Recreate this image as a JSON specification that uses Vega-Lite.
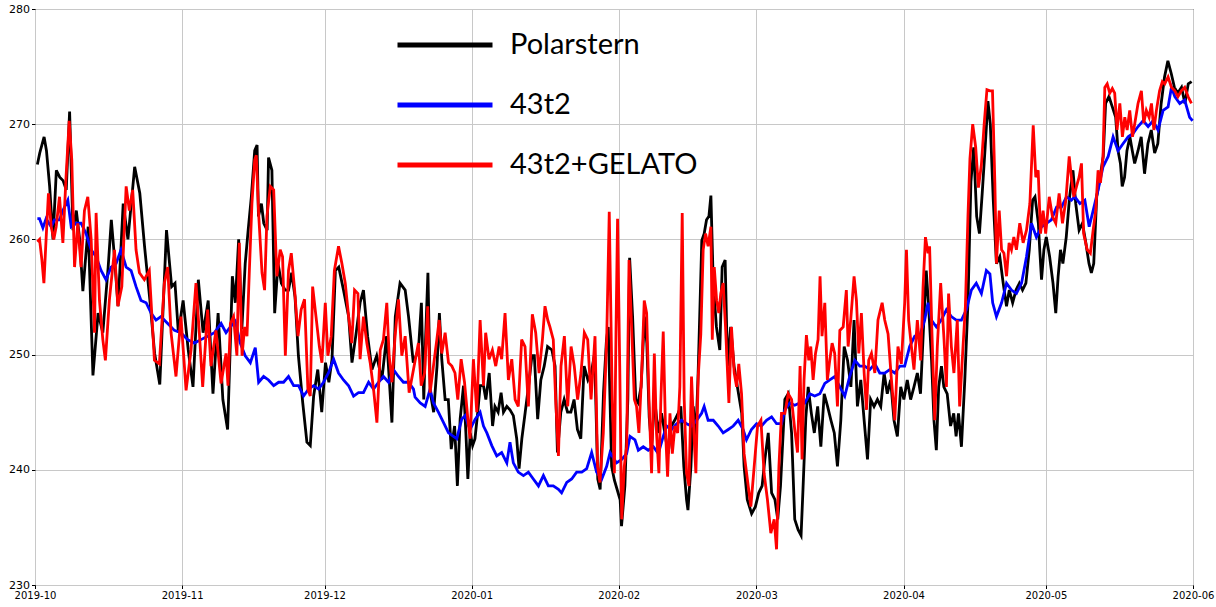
{
  "$schema": "https://vega.github.io/schema/vega-lite/v6.json",
  "width": 1158,
  "height": 576,
  "autosize": {"type": "none"},
  "padding": {"left": 35, "top": 9, "right": 23, "bottom": 22},
  "background": "white",
  "config": {
    "view": {"stroke": "#000000", "strokeWidth": 1},
    "axis": {
      "grid": true,
      "gridColor": "#c8c8c8",
      "gridWidth": 1,
      "domain": false,
      "tickColor": "#000000",
      "tickSize": 3.5,
      "labelFont": "DejaVu Sans",
      "labelColor": "#000000",
      "labelPadding": 2,
      "title": null
    }
  },
  "datasets": {
    "polarstern": [
      {"t":"2019-10-01T12:00","v":266.5},{"t":"2019-10-02T00:00","v":267.5},{"t":"2019-10-02T22:00","v":268.9},{"t":"2019-10-03T10:00","v":267.7},{"t":"2019-10-04T02:00","v":264.6},{"t":"2019-10-04T19:00","v":260.0},{"t":"2019-10-05T12:00","v":266.0},{"t":"2019-10-06T05:00","v":265.4},{"t":"2019-10-06T22:00","v":265.1},{"t":"2019-10-07T14:00","v":264.3},{"t":"2019-10-08T07:00","v":271.1},{"t":"2019-10-09T00:00","v":260.8},{"t":"2019-10-09T17:00","v":262.5},{"t":"2019-10-10T10:00","v":260.0},{"t":"2019-10-11T02:00","v":255.5},{"t":"2019-10-12T05:00","v":261.1},{"t":"2019-10-13T05:00","v":248.2},{"t":"2019-10-14T07:00","v":253.6},{"t":"2019-10-15T07:00","v":251.9},{"t":"2019-10-16T10:00","v":257.6},{"t":"2019-10-17T02:00","v":261.7},{"t":"2019-10-17T19:00","v":258.2},{"t":"2019-10-18T12:00","v":254.2},{"t":"2019-10-19T14:00","v":263.1},{"t":"2019-10-20T14:00","v":260.0},{"t":"2019-10-22T00:00","v":266.3},{"t":"2019-10-23T02:00","v":264.0},{"t":"2019-10-24T02:00","v":259.4},{"t":"2019-10-25T05:00","v":254.7},{"t":"2019-10-26T05:00","v":250.1},{"t":"2019-10-27T07:00","v":247.4},{"t":"2019-10-28T17:00","v":260.8},{"t":"2019-10-29T19:00","v":255.9},{"t":"2019-10-30T12:00","v":256.2},{"t":"2019-10-31T05:00","v":251.9},
      {"t":"2019-11-01T05:00","v":254.7},{"t":"2019-11-02T07:00","v":250.4},{"t":"2019-11-03T07:00","v":247.2},{"t":"2019-11-04T10:00","v":256.5},{"t":"2019-11-05T10:00","v":251.9},{"t":"2019-11-06T12:00","v":254.7},{"t":"2019-11-07T12:00","v":246.6},{"t":"2019-11-08T14:00","v":253.6},{"t":"2019-11-09T14:00","v":246.1},{"t":"2019-11-10T14:00","v":243.5},{"t":"2019-11-11T05:00","v":251.6},{"t":"2019-11-11T14:00","v":256.8},{"t":"2019-11-12T05:00","v":254.5},{"t":"2019-11-12T22:00","v":260.0},{"t":"2019-11-13T14:00","v":252.2},{"t":"2019-11-14T07:00","v":257.9},{"t":"2019-11-14T22:00","v":260.8},{"t":"2019-11-15T14:00","v":263.7},{"t":"2019-11-16T07:00","v":267.7},{"t":"2019-11-16T19:00","v":268.2},{"t":"2019-11-17T02:00","v":262.0},{"t":"2019-11-17T17:00","v":263.1},{"t":"2019-11-18T05:00","v":261.4},{"t":"2019-11-18T22:00","v":260.8},{"t":"2019-11-19T05:00","v":267.1},{"t":"2019-11-19T22:00","v":266.0},{"t":"2019-11-20T12:00","v":253.6},{"t":"2019-11-21T05:00","v":257.9},{"t":"2019-11-21T22:00","v":256.2},{"t":"2019-11-22T17:00","v":255.6},{"t":"2019-11-23T10:00","v":255.6},{"t":"2019-11-24T02:00","v":257.1},{"t":"2019-11-24T19:00","v":255.0},{"t":"2019-11-25T12:00","v":249.9},{"t":"2019-11-26T10:00","v":245.8},{"t":"2019-11-27T07:00","v":242.4},{"t":"2019-11-28T00:00","v":242.1},{"t":"2019-11-28T17:00","v":246.4},{"t":"2019-11-29T14:00","v":248.7},{"t":"2019-11-30T10:00","v":245.0},
      {"t":"2019-12-01T05:00","v":249.3},{"t":"2019-12-01T22:00","v":247.6},{"t":"2019-12-02T14:00","v":249.6},{"t":"2019-12-03T07:00","v":257.3},{"t":"2019-12-04T00:00","v":257.6},{"t":"2019-12-05T00:00","v":255.6},{"t":"2019-12-06T02:00","v":253.3},{"t":"2019-12-06T19:00","v":249.3},{"t":"2019-12-07T14:00","v":251.6},{"t":"2019-12-08T12:00","v":254.5},{"t":"2019-12-09T05:00","v":255.6},{"t":"2019-12-10T02:00","v":251.6},{"t":"2019-12-11T00:00","v":248.7},{"t":"2019-12-12T00:00","v":249.9},{"t":"2019-12-13T02:00","v":247.8},{"t":"2019-12-14T02:00","v":251.6},{"t":"2019-12-15T05:00","v":244.1},{"t":"2019-12-15T22:00","v":253.3},{"t":"2019-12-16T22:00","v":256.2},{"t":"2019-12-18T00:00","v":255.6},{"t":"2019-12-18T17:00","v":253.3},{"t":"2019-12-19T17:00","v":249.3},{"t":"2019-12-20T19:00","v":250.4},{"t":"2019-12-21T10:00","v":254.5},{"t":"2019-12-21T22:00","v":246.1},{"t":"2019-12-22T07:00","v":251.3},{"t":"2019-12-22T19:00","v":257.1},{"t":"2019-12-23T07:00","v":246.7},{"t":"2019-12-24T00:00","v":245.0},{"t":"2019-12-24T17:00","v":249.0},{"t":"2019-12-25T05:00","v":253.6},{"t":"2019-12-25T17:00","v":249.6},{"t":"2019-12-26T10:00","v":246.1},{"t":"2019-12-27T02:00","v":246.1},{"t":"2019-12-27T17:00","v":241.8},{"t":"2019-12-28T10:00","v":243.8},{"t":"2019-12-29T00:00","v":238.6},{"t":"2019-12-29T14:00","v":244.4},{"t":"2019-12-30T07:00","v":247.3},{"t":"2019-12-30T19:00","v":243.2},{"t":"2019-12-31T05:00","v":239.2},{"t":"2019-12-31T17:00","v":243.2},
      {"t":"2020-01-01T05:00","v":242.1},{"t":"2020-01-01T17:00","v":242.7},{"t":"2020-01-02T07:00","v":245.0},{"t":"2020-01-02T19:00","v":247.3},{"t":"2020-01-03T12:00","v":247.3},{"t":"2020-01-04T00:00","v":246.1},{"t":"2020-01-04T17:00","v":248.4},{"t":"2020-01-05T10:00","v":243.8},{"t":"2020-01-05T22:00","v":245.5},{"t":"2020-01-06T14:00","v":245.0},{"t":"2020-01-07T05:00","v":246.7},{"t":"2020-01-07T17:00","v":245.0},{"t":"2020-01-08T10:00","v":245.5},{"t":"2020-01-09T02:00","v":245.2},{"t":"2020-01-09T19:00","v":244.7},{"t":"2020-01-10T12:00","v":242.7},{"t":"2020-01-11T00:00","v":240.1},{"t":"2020-01-11T14:00","v":242.7},{"t":"2020-01-12T07:00","v":245.0},{"t":"2020-01-13T00:00","v":247.3},{"t":"2020-01-13T17:00","v":249.9},{"t":"2020-01-14T05:00","v":249.9},{"t":"2020-01-14T22:00","v":244.4},{"t":"2020-01-15T14:00","v":247.8},{"t":"2020-01-16T07:00","v":249.0},{"t":"2020-01-17T00:00","v":250.7},{"t":"2020-01-17T22:00","v":250.4},{"t":"2020-01-18T14:00","v":249.0},{"t":"2020-01-19T02:00","v":241.5},{"t":"2020-01-19T19:00","v":245.0},{"t":"2020-01-20T12:00","v":246.1},{"t":"2020-01-21T05:00","v":245.0},{"t":"2020-01-21T22:00","v":245.0},{"t":"2020-01-22T14:00","v":246.1},{"t":"2020-01-23T07:00","v":243.5},{"t":"2020-01-24T00:00","v":242.7},{"t":"2020-01-24T17:00","v":249.0},{"t":"2020-01-25T12:00","v":247.8},{"t":"2020-01-26T05:00","v":248.4},{"t":"2020-01-26T22:00","v":250.1},{"t":"2020-01-27T14:00","v":239.2},{"t":"2020-01-28T02:00","v":238.3},{"t":"2020-01-28T19:00","v":246.7},{"t":"2020-01-29T10:00","v":251.3},{"t":"2020-01-29T19:00","v":252.4},{"t":"2020-01-30T12:00","v":240.3},{"t":"2020-01-31T02:00","v":239.1},
      {"t":"2020-02-01T07:00","v":237.4},{"t":"2020-02-01T14:00","v":235.1},{"t":"2020-02-02T07:00","v":238.6},{"t":"2020-02-02T22:00","v":246.1},{"t":"2020-02-03T07:00","v":258.4},{"t":"2020-02-03T22:00","v":253.3},{"t":"2020-02-04T14:00","v":246.1},{"t":"2020-02-05T02:00","v":245.8},{"t":"2020-02-05T17:00","v":247.2},{"t":"2020-02-06T10:00","v":253.3},{"t":"2020-02-06T22:00","v":251.0},{"t":"2020-02-07T10:00","v":244.6},{"t":"2020-02-07T22:00","v":242.0},{"t":"2020-02-08T14:00","v":246.1},{"t":"2020-02-09T07:00","v":243.2},{"t":"2020-02-10T00:00","v":244.9},{"t":"2020-02-10T17:00","v":243.2},{"t":"2020-02-11T10:00","v":241.4},{"t":"2020-02-12T02:00","v":243.8},{"t":"2020-02-12T19:00","v":244.3},{"t":"2020-02-13T12:00","v":244.9},{"t":"2020-02-14T02:00","v":245.5},{"t":"2020-02-14T17:00","v":240.3},{"t":"2020-02-15T07:00","v":237.4},{"t":"2020-02-15T14:00","v":236.5},{"t":"2020-02-16T05:00","v":240.3},{"t":"2020-02-16T17:00","v":245.5},{"t":"2020-02-17T05:00","v":242.6},{"t":"2020-02-17T17:00","v":248.1},{"t":"2020-02-18T12:00","v":259.9},{"t":"2020-02-19T00:00","v":260.5},{"t":"2020-02-19T12:00","v":261.7},{"t":"2020-02-20T00:00","v":262.0},{"t":"2020-02-20T10:00","v":263.8},{"t":"2020-02-20T22:00","v":256.2},{"t":"2020-02-21T14:00","v":252.4},{"t":"2020-02-22T07:00","v":250.4},{"t":"2020-02-22T19:00","v":257.6},{"t":"2020-02-23T10:00","v":258.2},{"t":"2020-02-23T22:00","v":249.0},{"t":"2020-02-24T14:00","v":252.4},{"t":"2020-02-25T07:00","v":249.0},{"t":"2020-02-26T00:00","v":247.2},{"t":"2020-02-26T22:00","v":244.9},{"t":"2020-02-27T10:00","v":240.3},{"t":"2020-02-28T02:00","v":237.4},{"t":"2020-02-29T00:00","v":236.2},{"t":"2020-02-29T19:00","v":236.8},
      {"t":"2020-03-01T12:00","v":238.0},{"t":"2020-03-02T05:00","v":238.6},{"t":"2020-03-02T19:00","v":240.9},{"t":"2020-03-03T12:00","v":243.2},{"t":"2020-03-04T05:00","v":238.0},{"t":"2020-03-04T22:00","v":237.4},{"t":"2020-03-05T12:00","v":235.7},{"t":"2020-03-06T02:00","v":238.6},{"t":"2020-03-07T00:00","v":246.1},{"t":"2020-03-07T17:00","v":246.6},{"t":"2020-03-08T10:00","v":243.2},{"t":"2020-03-09T02:00","v":235.7},{"t":"2020-03-09T19:00","v":234.8},{"t":"2020-03-10T10:00","v":234.3},{"t":"2020-03-10T19:00","v":238.0},{"t":"2020-03-11T10:00","v":244.5},{"t":"2020-03-11T22:00","v":247.2},{"t":"2020-03-12T14:00","v":244.9},{"t":"2020-03-13T05:00","v":243.2},{"t":"2020-03-13T22:00","v":245.5},{"t":"2020-03-14T14:00","v":242.0},{"t":"2020-03-15T07:00","v":246.6},{"t":"2020-03-16T00:00","v":245.5},{"t":"2020-03-16T17:00","v":244.3},{"t":"2020-03-17T10:00","v":243.2},{"t":"2020-03-18T02:00","v":240.3},{"t":"2020-03-18T19:00","v":244.3},{"t":"2020-03-19T12:00","v":250.7},{"t":"2020-03-20T05:00","v":249.5},{"t":"2020-03-20T22:00","v":247.2},{"t":"2020-03-21T14:00","v":253.0},{"t":"2020-03-22T07:00","v":245.5},{"t":"2020-03-23T00:00","v":247.8},{"t":"2020-03-23T17:00","v":244.3},{"t":"2020-03-24T10:00","v":240.9},{"t":"2020-03-25T02:00","v":246.1},{"t":"2020-03-25T19:00","v":245.5},{"t":"2020-03-26T12:00","v":246.1},{"t":"2020-03-27T05:00","v":245.5},{"t":"2020-03-27T22:00","v":248.4},{"t":"2020-03-28T14:00","v":246.6},{"t":"2020-03-29T07:00","v":247.8},{"t":"2020-03-30T00:00","v":244.3},{"t":"2020-03-30T17:00","v":242.9},{"t":"2020-03-31T10:00","v":247.2},
      {"t":"2020-04-01T02:00","v":246.1},{"t":"2020-04-01T19:00","v":247.8},{"t":"2020-04-02T12:00","v":246.1},{"t":"2020-04-03T05:00","v":247.2},{"t":"2020-04-03T22:00","v":248.4},{"t":"2020-04-04T14:00","v":246.6},{"t":"2020-04-05T07:00","v":253.0},{"t":"2020-04-05T19:00","v":257.3},{"t":"2020-04-06T07:00","v":254.2},{"t":"2020-04-06T22:00","v":249.5},{"t":"2020-04-07T10:00","v":244.3},{"t":"2020-04-07T22:00","v":241.7},{"t":"2020-04-08T10:00","v":247.2},{"t":"2020-04-09T00:00","v":249.0},{"t":"2020-04-09T12:00","v":247.2},{"t":"2020-04-10T05:00","v":246.6},{"t":"2020-04-10T22:00","v":243.8},{"t":"2020-04-11T14:00","v":244.9},{"t":"2020-04-12T02:00","v":242.9},{"t":"2020-04-12T14:00","v":244.9},{"t":"2020-04-13T05:00","v":242.0},{"t":"2020-04-13T22:00","v":247.8},{"t":"2020-04-14T14:00","v":254.5},{"t":"2020-04-15T05:00","v":265.0},{"t":"2020-04-15T19:00","v":268.0},{"t":"2020-04-16T10:00","v":262.0},{"t":"2020-04-17T00:00","v":260.5},{"t":"2020-04-17T14:00","v":264.0},{"t":"2020-04-18T05:00","v":268.0},{"t":"2020-04-18T19:00","v":272.0},{"t":"2020-04-19T07:00","v":270.0},{"t":"2020-04-19T22:00","v":263.4},{"t":"2020-04-20T14:00","v":257.9},{"t":"2020-04-21T07:00","v":258.5},{"t":"2020-04-22T00:00","v":256.2},{"t":"2020-04-22T17:00","v":254.2},{"t":"2020-04-23T07:00","v":255.6},{"t":"2020-04-24T00:00","v":254.5},{"t":"2020-04-24T17:00","v":255.6},{"t":"2020-04-25T10:00","v":256.2},{"t":"2020-04-26T02:00","v":255.6},{"t":"2020-04-26T19:00","v":256.2},{"t":"2020-04-27T12:00","v":259.1},{"t":"2020-04-28T05:00","v":263.4},{"t":"2020-04-28T17:00","v":263.7},{"t":"2020-04-29T10:00","v":261.4},{"t":"2020-04-29T17:00","v":259.1},{"t":"2020-04-30T02:00","v":256.5},{"t":"2020-04-30T14:00","v":259.1},
      {"t":"2020-05-01T02:00","v":260.2},{"t":"2020-05-01T19:00","v":258.5},{"t":"2020-05-02T12:00","v":256.2},{"t":"2020-05-03T02:00","v":253.6},{"t":"2020-05-03T14:00","v":256.8},{"t":"2020-05-04T02:00","v":259.1},{"t":"2020-05-04T14:00","v":257.9},{"t":"2020-05-05T07:00","v":260.2},{"t":"2020-05-06T00:00","v":263.7},{"t":"2020-05-06T17:00","v":266.0},{"t":"2020-05-07T07:00","v":263.1},{"t":"2020-05-08T00:00","v":260.8},{"t":"2020-05-08T17:00","v":261.4},{"t":"2020-05-09T10:00","v":259.7},{"t":"2020-05-10T02:00","v":257.9},{"t":"2020-05-10T14:00","v":257.1},{"t":"2020-05-11T02:00","v":257.9},{"t":"2020-05-11T17:00","v":263.7},{"t":"2020-05-12T10:00","v":265.4},{"t":"2020-05-13T02:00","v":267.2},{"t":"2020-05-13T14:00","v":271.8},{"t":"2020-05-14T07:00","v":272.4},{"t":"2020-05-15T00:00","v":271.5},{"t":"2020-05-15T17:00","v":270.6},{"t":"2020-05-16T05:00","v":267.7},{"t":"2020-05-16T17:00","v":266.6},{"t":"2020-05-17T02:00","v":264.6},{"t":"2020-05-17T14:00","v":265.4},{"t":"2020-05-18T02:00","v":267.7},{"t":"2020-05-18T17:00","v":268.9},{"t":"2020-05-19T05:00","v":267.7},{"t":"2020-05-19T17:00","v":266.6},{"t":"2020-05-20T10:00","v":267.7},{"t":"2020-05-21T02:00","v":268.9},{"t":"2020-05-21T19:00","v":265.7},{"t":"2020-05-22T12:00","v":268.3},{"t":"2020-05-23T05:00","v":269.5},{"t":"2020-05-23T22:00","v":267.5},{"t":"2020-05-24T14:00","v":268.3},{"t":"2020-05-25T07:00","v":271.8},{"t":"2020-05-26T00:00","v":274.1},{"t":"2020-05-26T17:00","v":275.5},{"t":"2020-05-27T10:00","v":274.4},{"t":"2020-05-28T02:00","v":273.2},{"t":"2020-05-28T19:00","v":272.7},{"t":"2020-05-29T14:00","v":273.2},{"t":"2020-05-30T07:00","v":271.8},{"t":"2020-05-31T00:00","v":273.5},{"t":"2020-05-31T17:00","v":273.7}
    ],
    "run43t2": [
      {"t":"2019-10-01T12:00","v":261.8},{"t":"2019-10-01T23:00","v":261.8},{"t":"2019-10-02T16:00","v":261.0},{"t":"2019-10-03T08:00","v":261.8},{"t":"2019-10-04T10:00","v":261.1},{"t":"2019-10-05T02:00","v":261.7},{"t":"2019-10-06T04:00","v":261.7},{"t":"2019-10-06T21:00","v":262.5},{"t":"2019-10-07T22:00","v":263.4},{"t":"2019-10-08T15:00","v":261.1},{"t":"2019-10-09T16:00","v":261.4},{"t":"2019-10-10T17:00","v":261.4},{"t":"2019-10-11T18:00","v":260.5},{"t":"2019-10-12T20:00","v":259.1},{"t":"2019-10-13T21:00","v":258.5},{"t":"2019-10-14T22:00","v":257.3},{"t":"2019-10-15T23:00","v":256.5},{"t":"2019-10-17T01:00","v":257.6},{"t":"2019-10-18T02:00","v":257.9},{"t":"2019-10-19T03:00","v":259.1},{"t":"2019-10-20T05:00","v":257.6},{"t":"2019-10-21T06:00","v":257.3},{"t":"2019-10-22T07:00","v":255.9},{"t":"2019-10-23T08:00","v":254.7},{"t":"2019-10-24T10:00","v":254.5},{"t":"2019-10-25T11:00","v":253.6},{"t":"2019-10-26T12:00","v":253.0},{"t":"2019-10-27T13:00","v":253.3},{"t":"2019-10-28T23:00","v":252.7},{"t":"2019-10-30T09:00","v":252.1},{"t":"2019-10-31T18:00","v":251.9},
      {"t":"2019-11-02T04:00","v":251.3},{"t":"2019-11-03T14:00","v":251.0},{"t":"2019-11-04T23:00","v":251.3},{"t":"2019-11-06T09:00","v":251.6},{"t":"2019-11-07T19:00","v":251.9},{"t":"2019-11-09T05:00","v":252.7},{"t":"2019-11-10T06:00","v":251.9},{"t":"2019-11-11T04:00","v":252.4},{"t":"2019-11-12T05:00","v":252.9},{"t":"2019-11-13T06:00","v":251.0},{"t":"2019-11-14T07:00","v":249.9},{"t":"2019-11-15T09:00","v":249.3},{"t":"2019-11-16T10:00","v":250.6},{"t":"2019-11-17T03:00","v":247.6},{"t":"2019-11-18T04:00","v":248.1},{"t":"2019-11-19T05:00","v":247.8},{"t":"2019-11-20T07:00","v":247.3},{"t":"2019-11-21T08:00","v":247.6},{"t":"2019-11-22T09:00","v":247.6},{"t":"2019-11-23T10:00","v":248.1},{"t":"2019-11-24T12:00","v":247.3},{"t":"2019-11-25T13:00","v":247.3},{"t":"2019-11-26T14:00","v":246.4},{"t":"2019-11-27T15:00","v":247.0},{"t":"2019-11-28T17:00","v":247.3},{"t":"2019-11-29T18:00","v":247.0},{"t":"2019-11-30T19:00","v":247.6},
      {"t":"2019-12-01T20:00","v":248.4},{"t":"2019-12-02T22:00","v":249.6},{"t":"2019-12-03T23:00","v":248.4},{"t":"2019-12-05T00:00","v":247.8},{"t":"2019-12-06T02:00","v":247.3},{"t":"2019-12-07T03:00","v":246.4},{"t":"2019-12-08T04:00","v":246.7},{"t":"2019-12-09T05:00","v":246.7},{"t":"2019-12-10T07:00","v":247.6},{"t":"2019-12-11T08:00","v":247.0},{"t":"2019-12-12T09:00","v":247.6},{"t":"2019-12-13T10:00","v":248.1},{"t":"2019-12-14T12:00","v":247.6},{"t":"2019-12-15T13:00","v":248.7},{"t":"2019-12-16T14:00","v":248.1},{"t":"2019-12-17T15:00","v":247.6},{"t":"2019-12-18T17:00","v":247.6},{"t":"2019-12-19T18:00","v":247.0},{"t":"2019-12-20T02:00","v":246.3},{"t":"2019-12-21T04:00","v":245.8},{"t":"2019-12-22T05:00","v":245.5},{"t":"2019-12-23T06:00","v":247.0},{"t":"2019-12-23T23:00","v":245.8},{"t":"2019-12-25T00:00","v":245.0},{"t":"2019-12-26T02:00","v":244.1},{"t":"2019-12-27T03:00","v":243.2},{"t":"2019-12-28T04:00","v":242.9},{"t":"2019-12-28T21:00","v":242.7},{"t":"2019-12-29T22:00","v":244.4},{"t":"2019-12-30T15:00","v":244.7},{"t":"2019-12-31T16:00","v":243.5},
      {"t":"2020-01-01T18:00","v":244.4},{"t":"2020-01-02T19:00","v":245.0},{"t":"2020-01-03T12:00","v":243.8},{"t":"2020-01-04T05:00","v":243.2},{"t":"2020-01-05T06:00","v":242.1},{"t":"2020-01-06T07:00","v":241.2},{"t":"2020-01-07T08:00","v":241.5},{"t":"2020-01-08T10:00","v":240.6},{"t":"2020-01-09T02:00","v":242.4},{"t":"2020-01-09T19:00","v":240.6},{"t":"2020-01-10T20:00","v":239.8},{"t":"2020-01-11T22:00","v":239.5},{"t":"2020-01-12T23:00","v":239.8},{"t":"2020-01-14T00:00","v":239.2},{"t":"2020-01-15T02:00","v":238.6},{"t":"2020-01-16T03:00","v":239.5},{"t":"2020-01-17T04:00","v":238.6},{"t":"2020-01-18T05:00","v":238.6},{"t":"2020-01-19T07:00","v":238.3},{"t":"2020-01-19T23:00","v":238.0},{"t":"2020-01-21T01:00","v":238.9},{"t":"2020-01-22T02:00","v":239.2},{"t":"2020-01-23T03:00","v":239.8},{"t":"2020-01-24T05:00","v":239.8},{"t":"2020-01-25T06:00","v":240.1},{"t":"2020-01-26T07:00","v":241.5},{"t":"2020-01-27T08:00","v":239.8},{"t":"2020-01-28T10:00","v":239.2},{"t":"2020-01-29T11:00","v":240.3},{"t":"2020-01-30T04:00","v":241.5},{"t":"2020-01-31T13:00","v":240.6},
      {"t":"2020-02-01T15:00","v":240.9},{"t":"2020-02-02T16:00","v":241.4},{"t":"2020-02-03T09:00","v":242.9},{"t":"2020-02-04T10:00","v":242.6},{"t":"2020-02-05T03:00","v":241.7},{"t":"2020-02-06T04:00","v":242.0},{"t":"2020-02-07T05:00","v":241.7},{"t":"2020-02-08T07:00","v":242.0},{"t":"2020-02-09T08:00","v":241.4},{"t":"2020-02-10T09:00","v":242.9},{"t":"2020-02-11T02:00","v":243.8},{"t":"2020-02-12T03:00","v":243.5},{"t":"2020-02-13T05:00","v":244.0},{"t":"2020-02-14T06:00","v":244.3},{"t":"2020-02-15T07:00","v":244.0},{"t":"2020-02-16T08:00","v":243.8},{"t":"2020-02-17T10:00","v":244.3},{"t":"2020-02-18T11:00","v":244.9},{"t":"2020-02-19T00:00","v":245.5},{"t":"2020-02-19T20:00","v":244.3},{"t":"2020-02-20T22:00","v":244.3},{"t":"2020-02-21T23:00","v":243.8},{"t":"2020-02-23T00:00","v":243.2},{"t":"2020-02-24T02:00","v":243.5},{"t":"2020-02-25T03:00","v":243.8},{"t":"2020-02-26T04:00","v":244.3},{"t":"2020-02-27T05:00","v":243.5},{"t":"2020-02-27T22:00","v":242.6},{"t":"2020-02-28T23:00","v":243.5},
      {"t":"2020-03-01T01:00","v":244.0},{"t":"2020-03-02T02:00","v":243.8},{"t":"2020-03-03T03:00","v":244.3},{"t":"2020-03-04T05:00","v":244.6},{"t":"2020-03-05T06:00","v":244.0},{"t":"2020-03-06T07:00","v":244.0},{"t":"2020-03-07T00:00","v":245.2},{"t":"2020-03-08T01:00","v":245.8},{"t":"2020-03-09T02:00","v":245.6},{"t":"2020-03-10T04:00","v":245.8},{"t":"2020-03-11T05:00","v":245.8},{"t":"2020-03-12T06:00","v":246.6},{"t":"2020-03-13T07:00","v":246.4},{"t":"2020-03-14T09:00","v":246.6},{"t":"2020-03-15T10:00","v":247.5},{"t":"2020-03-16T11:00","v":247.8},{"t":"2020-03-17T12:00","v":248.1},{"t":"2020-03-18T14:00","v":247.2},{"t":"2020-03-19T15:00","v":246.4},{"t":"2020-03-20T16:00","v":248.1},{"t":"2020-03-21T18:00","v":249.5},{"t":"2020-03-22T19:00","v":249.0},{"t":"2020-03-23T20:00","v":249.0},{"t":"2020-03-24T21:00","v":248.7},{"t":"2020-03-25T23:00","v":249.2},{"t":"2020-03-27T00:00","v":248.4},{"t":"2020-03-28T01:00","v":248.4},{"t":"2020-03-29T02:00","v":248.7},{"t":"2020-03-30T04:00","v":248.4},{"t":"2020-03-31T05:00","v":249.0},
      {"t":"2020-04-01T06:00","v":249.0},{"t":"2020-04-02T07:00","v":250.7},{"t":"2020-04-03T09:00","v":251.6},{"t":"2020-04-04T10:00","v":251.6},{"t":"2020-04-05T11:00","v":253.0},{"t":"2020-04-06T04:00","v":254.5},{"t":"2020-04-06T21:00","v":253.0},{"t":"2020-04-07T22:00","v":252.4},{"t":"2020-04-08T23:00","v":253.0},{"t":"2020-04-10T01:00","v":253.9},{"t":"2020-04-11T02:00","v":253.3},{"t":"2020-04-12T03:00","v":253.0},{"t":"2020-04-13T05:00","v":253.0},{"t":"2020-04-14T06:00","v":253.9},{"t":"2020-04-15T07:00","v":255.6},{"t":"2020-04-16T08:00","v":256.2},{"t":"2020-04-17T10:00","v":255.3},{"t":"2020-04-18T11:00","v":257.3},{"t":"2020-04-19T05:00","v":257.0},{"t":"2020-04-19T19:00","v":254.5},{"t":"2020-04-20T14:00","v":253.3},{"t":"2020-04-21T16:00","v":254.5},{"t":"2020-04-22T17:00","v":256.2},{"t":"2020-04-23T18:00","v":255.6},{"t":"2020-04-24T19:00","v":255.3},{"t":"2020-04-25T21:00","v":256.2},{"t":"2020-04-26T22:00","v":258.5},{"t":"2020-04-27T23:00","v":261.4},{"t":"2020-04-29T00:00","v":260.2},{"t":"2020-04-30T02:00","v":261.1},
      {"t":"2020-05-01T03:00","v":261.4},{"t":"2020-05-02T04:00","v":261.7},{"t":"2020-05-03T06:00","v":262.8},{"t":"2020-05-04T07:00","v":262.8},{"t":"2020-05-05T08:00","v":263.7},{"t":"2020-05-06T09:00","v":263.4},{"t":"2020-05-07T02:00","v":263.7},{"t":"2020-05-08T04:00","v":263.1},{"t":"2020-05-09T05:00","v":263.4},{"t":"2020-05-10T03:00","v":261.1},{"t":"2020-05-10T23:00","v":262.5},{"t":"2020-05-12T00:00","v":264.3},{"t":"2020-05-13T01:00","v":266.3},{"t":"2020-05-14T03:00","v":267.2},{"t":"2020-05-15T04:00","v":268.9},{"t":"2020-05-16T05:00","v":267.7},{"t":"2020-05-17T06:00","v":268.3},{"t":"2020-05-18T08:00","v":268.9},{"t":"2020-05-19T09:00","v":269.2},{"t":"2020-05-20T10:00","v":269.8},{"t":"2020-05-21T12:00","v":270.3},{"t":"2020-05-22T13:00","v":269.8},{"t":"2020-05-23T14:00","v":270.3},{"t":"2020-05-24T15:00","v":269.5},{"t":"2020-05-25T17:00","v":271.2},{"t":"2020-05-26T18:00","v":271.5},{"t":"2020-05-27T11:00","v":273.2},{"t":"2020-05-28T04:00","v":272.4},{"t":"2020-05-29T05:00","v":271.8},{"t":"2020-05-30T06:00","v":272.1},{"t":"2020-05-31T07:00","v":270.6},{"t":"2020-05-31T22:00","v":270.3}
    ],
    "gelato": [
      {"t":"2019-10-01T12:00","v":259.8},{"t":"2019-10-01T23:00","v":260.0},{"t":"2019-10-02T11:00","v":258.2},{"t":"2019-10-02T21:00","v":256.2},{"t":"2019-10-03T08:00","v":260.0},{"t":"2019-10-03T20:00","v":264.0},{"t":"2019-10-04T10:00","v":261.1},{"t":"2019-10-04T23:00","v":260.0},{"t":"2019-10-05T11:00","v":261.1},{"t":"2019-10-06T04:00","v":263.7},{"t":"2019-10-06T21:00","v":259.7},{"t":"2019-10-07T13:00","v":265.4},{"t":"2019-10-08T05:00","v":270.3},{"t":"2019-10-08T18:00","v":266.9},{"t":"2019-10-09T08:00","v":257.6},{"t":"2019-10-10T00:00","v":261.4},{"t":"2019-10-10T17:00","v":257.6},{"t":"2019-10-11T10:00","v":262.5},{"t":"2019-10-12T03:00","v":263.7},{"t":"2019-10-12T20:00","v":260.0},{"t":"2019-10-13T13:00","v":251.9},{"t":"2019-10-13T21:00","v":262.3},{"t":"2019-10-14T14:00","v":254.7},{"t":"2019-10-15T07:00","v":251.3},{"t":"2019-10-15T20:00","v":249.5},{"t":"2019-10-16T16:00","v":254.7},{"t":"2019-10-17T18:00","v":259.1},{"t":"2019-10-18T11:00","v":254.2},{"t":"2019-10-19T07:00","v":255.9},{"t":"2019-10-20T05:00","v":264.6},{"t":"2019-10-20T21:00","v":262.5},{"t":"2019-10-21T14:00","v":264.3},{"t":"2019-10-22T07:00","v":259.1},{"t":"2019-10-23T00:00","v":257.1},{"t":"2019-10-24T01:00","v":256.5},{"t":"2019-10-25T02:00","v":257.3},{"t":"2019-10-26T04:00","v":249.5},{"t":"2019-10-27T05:00","v":249.2},{"t":"2019-10-28T06:00","v":256.2},{"t":"2019-10-28T23:00","v":257.6},{"t":"2019-10-29T16:00","v":251.9},{"t":"2019-10-30T17:00","v":248.1},{"t":"2019-10-31T18:00","v":253.3},
      {"t":"2019-11-01T20:00","v":246.9},{"t":"2019-11-02T21:00","v":250.4},{"t":"2019-11-03T22:00","v":256.2},{"t":"2019-11-04T15:00","v":251.9},{"t":"2019-11-05T08:00","v":247.2},{"t":"2019-11-06T09:00","v":253.9},{"t":"2019-11-07T02:00","v":249.0},{"t":"2019-11-08T03:00","v":252.1},{"t":"2019-11-09T05:00","v":247.5},{"t":"2019-11-10T06:00","v":250.1},{"t":"2019-11-10T16:00","v":247.3},{"t":"2019-11-11T04:00","v":252.7},{"t":"2019-11-11T20:00","v":253.3},{"t":"2019-11-12T13:00","v":249.9},{"t":"2019-11-13T01:00","v":259.7},{"t":"2019-11-13T15:00","v":249.9},{"t":"2019-11-14T04:00","v":252.4},{"t":"2019-11-14T16:00","v":251.6},{"t":"2019-11-15T04:00","v":257.3},{"t":"2019-11-15T17:00","v":263.1},{"t":"2019-11-16T07:00","v":266.9},{"t":"2019-11-16T15:00","v":267.3},{"t":"2019-11-17T03:00","v":262.2},{"t":"2019-11-17T20:00","v":257.1},{"t":"2019-11-18T09:00","v":255.6},{"t":"2019-11-18T21:00","v":262.0},{"t":"2019-11-19T14:00","v":264.6},{"t":"2019-11-20T07:00","v":264.3},{"t":"2019-11-20T23:00","v":256.8},{"t":"2019-11-21T16:00","v":259.1},{"t":"2019-11-22T04:00","v":258.5},{"t":"2019-11-22T18:00","v":249.9},{"t":"2019-11-23T10:00","v":257.3},{"t":"2019-11-24T00:00","v":258.8},{"t":"2019-11-24T17:00","v":255.6},{"t":"2019-11-25T10:00","v":251.6},{"t":"2019-11-26T02:00","v":253.9},{"t":"2019-11-26T19:00","v":254.8},{"t":"2019-11-27T12:00","v":247.0},{"t":"2019-11-28T00:00","v":246.4},{"t":"2019-11-28T12:00","v":255.9},{"t":"2019-11-29T05:00","v":253.3},{"t":"2019-11-29T22:00","v":250.7},{"t":"2019-11-30T11:00","v":249.3},
      {"t":"2019-12-01T04:00","v":254.5},{"t":"2019-12-01T17:00","v":249.9},{"t":"2019-12-02T10:00","v":251.6},{"t":"2019-12-03T02:00","v":257.3},{"t":"2019-12-03T23:00","v":259.4},{"t":"2019-12-04T16:00","v":257.9},{"t":"2019-12-05T09:00","v":256.2},{"t":"2019-12-06T02:00","v":253.3},{"t":"2019-12-06T18:00","v":251.0},{"t":"2019-12-07T08:00","v":255.6},{"t":"2019-12-08T01:00","v":255.3},{"t":"2019-12-08T12:00","v":249.6},{"t":"2019-12-09T05:00","v":253.3},{"t":"2019-12-09T22:00","v":251.0},{"t":"2019-12-10T15:00","v":249.3},{"t":"2019-12-11T08:00","v":247.0},{"t":"2019-12-12T01:00","v":244.1},{"t":"2019-12-12T18:00","v":250.4},{"t":"2019-12-13T10:00","v":251.3},{"t":"2019-12-14T03:00","v":254.5},{"t":"2019-12-14T15:00","v":249.9},{"t":"2019-12-15T05:00","v":247.6},{"t":"2019-12-15T21:00","v":251.6},{"t":"2019-12-16T14:00","v":254.8},{"t":"2019-12-17T07:00","v":249.9},{"t":"2019-12-18T00:00","v":251.6},{"t":"2019-12-18T20:00","v":246.7},{"t":"2019-12-19T18:00","v":248.7},{"t":"2019-12-20T19:00","v":251.0},{"t":"2019-12-21T09:00","v":247.3},{"t":"2019-12-22T02:00","v":248.4},{"t":"2019-12-22T18:00","v":254.2},{"t":"2019-12-23T06:00","v":246.7},{"t":"2019-12-23T23:00","v":249.0},{"t":"2019-12-24T16:00","v":251.3},{"t":"2019-12-25T04:00","v":253.0},{"t":"2019-12-25T17:00","v":250.1},{"t":"2019-12-26T10:00","v":251.9},{"t":"2019-12-27T03:00","v":249.3},{"t":"2019-12-27T20:00","v":249.0},{"t":"2019-12-28T12:00","v":248.4},{"t":"2019-12-29T02:00","v":246.1},{"t":"2019-12-29T19:00","v":249.6},{"t":"2019-12-30T12:00","v":247.6},{"t":"2019-12-31T05:00","v":244.4},{"t":"2019-12-31T16:00","v":242.7},
      {"t":"2020-01-01T09:00","v":249.6},{"t":"2020-01-02T02:00","v":245.0},{"t":"2020-01-02T19:00","v":253.0},{"t":"2020-01-03T12:00","v":247.3},{"t":"2020-01-03T23:00","v":251.9},{"t":"2020-01-04T16:00","v":249.6},{"t":"2020-01-05T09:00","v":250.4},{"t":"2020-01-06T02:00","v":249.0},{"t":"2020-01-06T19:00","v":250.7},{"t":"2020-01-07T08:00","v":249.6},{"t":"2020-01-08T01:00","v":253.6},{"t":"2020-01-08T18:00","v":247.8},{"t":"2020-01-09T11:00","v":249.6},{"t":"2020-01-10T04:00","v":246.1},{"t":"2020-01-10T20:00","v":245.5},{"t":"2020-01-11T13:00","v":251.3},{"t":"2020-01-12T06:00","v":250.7},{"t":"2020-01-12T23:00","v":245.5},{"t":"2020-01-13T19:00","v":253.5},{"t":"2020-01-14T12:00","v":251.9},{"t":"2020-01-15T05:00","v":248.4},{"t":"2020-01-15T22:00","v":251.3},{"t":"2020-01-16T11:00","v":254.2},{"t":"2020-01-17T01:00","v":253.0},{"t":"2020-01-17T12:00","v":252.4},{"t":"2020-01-18T05:00","v":251.3},{"t":"2020-01-18T17:00","v":246.1},{"t":"2020-01-19T07:00","v":241.2},{"t":"2020-01-19T20:00","v":249.0},{"t":"2020-01-20T13:00","v":251.6},{"t":"2020-01-21T06:00","v":245.5},{"t":"2020-01-21T23:00","v":250.7},{"t":"2020-01-22T15:00","v":249.0},{"t":"2020-01-23T08:00","v":246.1},{"t":"2020-01-24T01:00","v":248.4},{"t":"2020-01-24T18:00","v":251.9},{"t":"2020-01-25T11:00","v":251.3},{"t":"2020-01-26T04:00","v":246.1},{"t":"2020-01-27T00:00","v":251.6},{"t":"2020-01-27T13:00","v":240.3},{"t":"2020-01-28T01:00","v":238.9},{"t":"2020-01-28T18:00","v":243.2},{"t":"2020-01-29T11:00","v":251.3},{"t":"2020-01-30T00:00","v":262.4},{"t":"2020-01-30T15:00","v":246.1},{"t":"2020-01-31T02:00","v":239.7},{"t":"2020-01-31T10:00","v":251.8},{"t":"2020-01-31T18:00","v":261.8},
      {"t":"2020-02-01T05:00","v":249.0},{"t":"2020-02-01T15:00","v":235.7},{"t":"2020-02-02T04:00","v":240.3},{"t":"2020-02-02T16:00","v":242.0},{"t":"2020-02-03T04:00","v":258.2},{"t":"2020-02-03T17:00","v":252.4},{"t":"2020-02-04T07:00","v":246.1},{"t":"2020-02-04T18:00","v":245.5},{"t":"2020-02-05T06:00","v":243.2},{"t":"2020-02-05T20:00","v":248.4},{"t":"2020-02-06T09:00","v":254.7},{"t":"2020-02-06T21:00","v":253.6},{"t":"2020-02-07T09:00","v":246.1},{"t":"2020-02-07T22:00","v":239.7},{"t":"2020-02-08T12:00","v":250.1},{"t":"2020-02-08T23:00","v":243.2},{"t":"2020-02-09T11:00","v":239.7},{"t":"2020-02-09T21:00","v":246.1},{"t":"2020-02-10T09:00","v":252.0},{"t":"2020-02-10T21:00","v":243.2},{"t":"2020-02-11T07:00","v":239.4},{"t":"2020-02-11T19:00","v":244.9},{"t":"2020-02-12T07:00","v":241.4},{"t":"2020-02-12T20:00","v":243.8},{"t":"2020-02-13T10:00","v":243.2},{"t":"2020-02-13T21:00","v":247.2},{"t":"2020-02-14T09:00","v":262.3},{"t":"2020-02-14T19:00","v":246.1},{"t":"2020-02-15T07:00","v":239.7},{"t":"2020-02-15T19:00","v":238.6},{"t":"2020-02-16T08:00","v":248.1},{"t":"2020-02-16T20:00","v":243.2},{"t":"2020-02-17T06:00","v":239.7},{"t":"2020-02-17T18:00","v":248.1},{"t":"2020-02-18T07:00","v":251.8},{"t":"2020-02-18T19:00","v":259.1},{"t":"2020-02-19T07:00","v":260.5},{"t":"2020-02-19T20:00","v":259.4},{"t":"2020-02-20T10:00","v":261.1},{"t":"2020-02-20T17:00","v":251.3},{"t":"2020-02-21T03:00","v":257.6},{"t":"2020-02-21T15:00","v":254.7},{"t":"2020-02-22T02:00","v":253.6},{"t":"2020-02-22T12:00","v":255.3},{"t":"2020-02-23T00:00","v":256.2},{"t":"2020-02-23T12:00","v":252.4},{"t":"2020-02-24T05:00","v":245.8},{"t":"2020-02-24T18:00","v":252.4},{"t":"2020-02-25T08:00","v":248.4},{"t":"2020-02-25T20:00","v":247.2},{"t":"2020-02-26T07:00","v":249.2},{"t":"2020-02-26T21:00","v":246.6},{"t":"2020-02-27T10:00","v":241.4},{"t":"2020-02-28T03:00","v":239.1},{"t":"2020-02-28T20:00","v":236.8},{"t":"2020-02-29T13:00","v":240.3},
      {"t":"2020-03-01T06:00","v":243.8},{"t":"2020-03-01T23:00","v":244.3},{"t":"2020-03-02T15:00","v":239.7},{"t":"2020-03-03T08:00","v":237.4},{"t":"2020-03-04T01:00","v":234.5},{"t":"2020-03-04T18:00","v":235.7},{"t":"2020-03-05T06:00","v":233.1},{"t":"2020-03-05T18:00","v":240.3},{"t":"2020-03-06T07:00","v":244.9},{"t":"2020-03-07T00:00","v":244.9},{"t":"2020-03-07T17:00","v":246.6},{"t":"2020-03-08T10:00","v":246.1},{"t":"2020-03-09T02:00","v":243.5},{"t":"2020-03-09T16:00","v":241.5},{"t":"2020-03-10T05:00","v":249.0},{"t":"2020-03-10T15:00","v":240.9},{"t":"2020-03-11T01:00","v":247.8},{"t":"2020-03-11T13:00","v":251.7},{"t":"2020-03-12T01:00","v":249.5},{"t":"2020-03-12T11:00","v":250.7},{"t":"2020-03-12T23:00","v":247.8},{"t":"2020-03-13T11:00","v":250.1},{"t":"2020-03-14T00:00","v":251.3},{"t":"2020-03-14T10:00","v":256.8},{"t":"2020-03-14T20:00","v":251.6},{"t":"2020-03-15T10:00","v":254.5},{"t":"2020-03-15T23:00","v":247.8},{"t":"2020-03-16T11:00","v":249.5},{"t":"2020-03-16T23:00","v":251.0},{"t":"2020-03-17T12:00","v":250.1},{"t":"2020-03-18T02:00","v":245.5},{"t":"2020-03-18T14:00","v":252.1},{"t":"2020-03-19T07:00","v":252.4},{"t":"2020-03-19T23:00","v":255.6},{"t":"2020-03-20T08:00","v":250.7},{"t":"2020-03-20T21:00","v":253.0},{"t":"2020-03-21T14:00","v":256.8},{"t":"2020-03-22T02:00","v":254.7},{"t":"2020-03-22T14:00","v":250.1},{"t":"2020-03-23T03:00","v":253.6},{"t":"2020-03-23T17:00","v":248.4},{"t":"2020-03-24T05:00","v":245.2},{"t":"2020-03-24T16:00","v":249.5},{"t":"2020-03-25T06:00","v":250.1},{"t":"2020-03-25T23:00","v":248.4},{"t":"2020-03-26T15:00","v":253.0},{"t":"2020-03-27T12:00","v":254.5},{"t":"2020-03-28T01:00","v":253.0},{"t":"2020-03-28T18:00","v":251.8},{"t":"2020-03-29T11:00","v":247.8},{"t":"2020-03-30T04:00","v":244.3},{"t":"2020-03-30T20:00","v":250.7},{"t":"2020-03-31T13:00","v":249.2},
      {"t":"2020-04-01T06:00","v":254.5},{"t":"2020-04-01T15:00","v":259.1},{"t":"2020-04-02T02:00","v":253.0},{"t":"2020-04-02T16:00","v":250.7},{"t":"2020-04-03T05:00","v":248.7},{"t":"2020-04-03T22:00","v":253.0},{"t":"2020-04-04T15:00","v":249.5},{"t":"2020-04-05T03:00","v":255.9},{"t":"2020-04-05T15:00","v":260.2},{"t":"2020-04-06T04:00","v":258.8},{"t":"2020-04-06T12:00","v":259.4},{"t":"2020-04-07T00:00","v":251.8},{"t":"2020-04-07T14:00","v":244.3},{"t":"2020-04-08T03:00","v":250.7},{"t":"2020-04-08T20:00","v":256.2},{"t":"2020-04-09T13:00","v":251.3},{"t":"2020-04-10T01:00","v":247.2},{"t":"2020-04-10T12:00","v":255.3},{"t":"2020-04-11T02:00","v":250.7},{"t":"2020-04-11T15:00","v":248.4},{"t":"2020-04-12T08:00","v":253.0},{"t":"2020-04-12T20:00","v":245.5},{"t":"2020-04-13T13:00","v":250.7},{"t":"2020-04-14T01:00","v":254.2},{"t":"2020-04-14T14:00","v":262.0},{"t":"2020-04-15T00:00","v":267.0},{"t":"2020-04-15T14:00","v":270.0},{"t":"2020-04-16T05:00","v":268.0},{"t":"2020-04-16T19:00","v":264.5},{"t":"2020-04-17T10:00","v":266.5},{"t":"2020-04-18T00:00","v":270.0},{"t":"2020-04-18T14:00","v":273.0},{"t":"2020-04-19T05:00","v":272.9},{"t":"2020-04-19T18:00","v":272.9},{"t":"2020-04-20T06:00","v":264.9},{"t":"2020-04-20T14:00","v":257.9},{"t":"2020-04-21T04:00","v":262.5},{"t":"2020-04-21T16:00","v":259.1},{"t":"2020-04-22T04:00","v":258.8},{"t":"2020-04-22T17:00","v":256.8},{"t":"2020-04-23T06:00","v":259.7},{"t":"2020-04-23T18:00","v":259.1},{"t":"2020-04-24T06:00","v":260.2},{"t":"2020-04-24T19:00","v":259.1},{"t":"2020-04-25T12:00","v":261.4},{"t":"2020-04-26T05:00","v":259.7},{"t":"2020-04-26T22:00","v":260.8},{"t":"2020-04-27T15:00","v":263.1},{"t":"2020-04-28T08:00","v":269.9},{"t":"2020-04-28T21:00","v":265.4},{"t":"2020-04-29T09:00","v":266.0},{"t":"2020-04-29T21:00","v":260.5},{"t":"2020-04-30T10:00","v":262.5},{"t":"2020-04-30T23:00","v":260.5},
      {"t":"2020-05-01T17:00","v":263.7},{"t":"2020-05-02T09:00","v":262.0},{"t":"2020-05-03T02:00","v":261.4},{"t":"2020-05-03T19:00","v":264.0},{"t":"2020-05-04T12:00","v":261.4},{"t":"2020-05-05T05:00","v":263.4},{"t":"2020-05-05T22:00","v":267.2},{"t":"2020-05-06T09:00","v":265.4},{"t":"2020-05-06T21:00","v":263.7},{"t":"2020-05-07T11:00","v":264.6},{"t":"2020-05-08T00:00","v":265.4},{"t":"2020-05-08T12:00","v":266.6},{"t":"2020-05-08T23:00","v":260.5},{"t":"2020-05-09T17:00","v":259.1},{"t":"2020-05-10T09:00","v":258.8},{"t":"2020-05-10T23:00","v":260.8},{"t":"2020-05-11T12:00","v":262.5},{"t":"2020-05-12T00:00","v":266.0},{"t":"2020-05-12T12:00","v":264.9},{"t":"2020-05-13T01:00","v":267.2},{"t":"2020-05-13T10:00","v":273.2},{"t":"2020-05-13T22:00","v":273.5},{"t":"2020-05-14T11:00","v":272.7},{"t":"2020-05-15T00:00","v":273.1},{"t":"2020-05-15T12:00","v":272.7},{"t":"2020-05-16T00:00","v":269.5},{"t":"2020-05-16T14:00","v":271.8},{"t":"2020-05-17T03:00","v":268.9},{"t":"2020-05-17T15:00","v":270.6},{"t":"2020-05-18T03:00","v":269.5},{"t":"2020-05-18T16:00","v":271.2},{"t":"2020-05-19T06:00","v":268.9},{"t":"2020-05-19T18:00","v":270.1},{"t":"2020-05-20T10:00","v":271.8},{"t":"2020-05-21T03:00","v":272.9},{"t":"2020-05-21T15:00","v":270.1},{"t":"2020-05-22T04:00","v":271.2},{"t":"2020-05-22T18:00","v":270.6},{"t":"2020-05-23T06:00","v":271.8},{"t":"2020-05-23T18:00","v":269.5},{"t":"2020-05-24T07:00","v":271.2},{"t":"2020-05-24T23:00","v":272.9},{"t":"2020-05-25T13:00","v":273.7},{"t":"2020-05-26T01:00","v":273.5},{"t":"2020-05-26T18:00","v":274.1},{"t":"2020-05-27T11:00","v":273.2},{"t":"2020-05-28T04:00","v":272.9},{"t":"2020-05-28T20:00","v":272.4},{"t":"2020-05-29T13:00","v":272.9},{"t":"2020-05-30T06:00","v":273.2},{"t":"2020-05-30T23:00","v":272.4},{"t":"2020-05-31T16:00","v":271.8}
    ]
  },
  "encoding": {
    "x": {
      "field": "t",
      "type": "temporal",
      "scale": {"domain": [{"year": 2019, "month": 10, "date": 1}, {"year": 2020, "month": 6, "date": 1}]},
      "axis": {
        "values": [
          {"year": 2019, "month": 10, "date": 1}, {"year": 2019, "month": 11, "date": 1}, {"year": 2019, "month": 12, "date": 1},
          {"year": 2020, "month": 1, "date": 1}, {"year": 2020, "month": 2, "date": 1}, {"year": 2020, "month": 3, "date": 1},
          {"year": 2020, "month": 4, "date": 1}, {"year": 2020, "month": 5, "date": 1}, {"year": 2020, "month": 6, "date": 1}
        ],
        "format": "%Y-%m",
        "labelFontSize": 10,
        "labelFlush": false,
        "labelOverlap": false
      }
    },
    "y": {
      "field": "v",
      "type": "quantitative",
      "scale": {"domain": [230, 280], "nice": false, "zero": false},
      "axis": {"values": [230, 240, 250, 260, 270, 280], "labelFontSize": 11, "labelFlush": false}
    }
  },
  "layer": [
    {
      "data": {"name": "polarstern"},
      "mark": {"type": "line", "strokeWidth": 2.8},
      "encoding": {
        "color": {
          "datum": "Polarstern",
          "scale": {"domain": ["Polarstern", "43t2", "43t2+GELATO"], "range": ["#000000", "#0000ff", "#ff0000"]},
          "legend": {
            "title": null,
            "orient": "none",
            "legendX": 360,
            "legendY": 6,
            "padding": 0,
            "symbolType": "stroke",
            "symbolSize": 9025,
            "symbolStrokeWidth": 5,
            "labelFont": "Lato",
            "labelFontSize": 29,
            "labelColor": "#000000",
            "labelOffset": 15,
            "labelLimit": 0,
            "clipHeight": 60,
            "rowPadding": 0
          }
        }
      }
    },
    {
      "data": {"name": "run43t2"},
      "mark": {"type": "line", "strokeWidth": 2.8},
      "encoding": {"color": {"datum": "43t2"}}
    },
    {
      "data": {"name": "gelato"},
      "mark": {"type": "line", "strokeWidth": 2.8},
      "encoding": {"color": {"datum": "43t2+GELATO"}}
    }
  ]
}
